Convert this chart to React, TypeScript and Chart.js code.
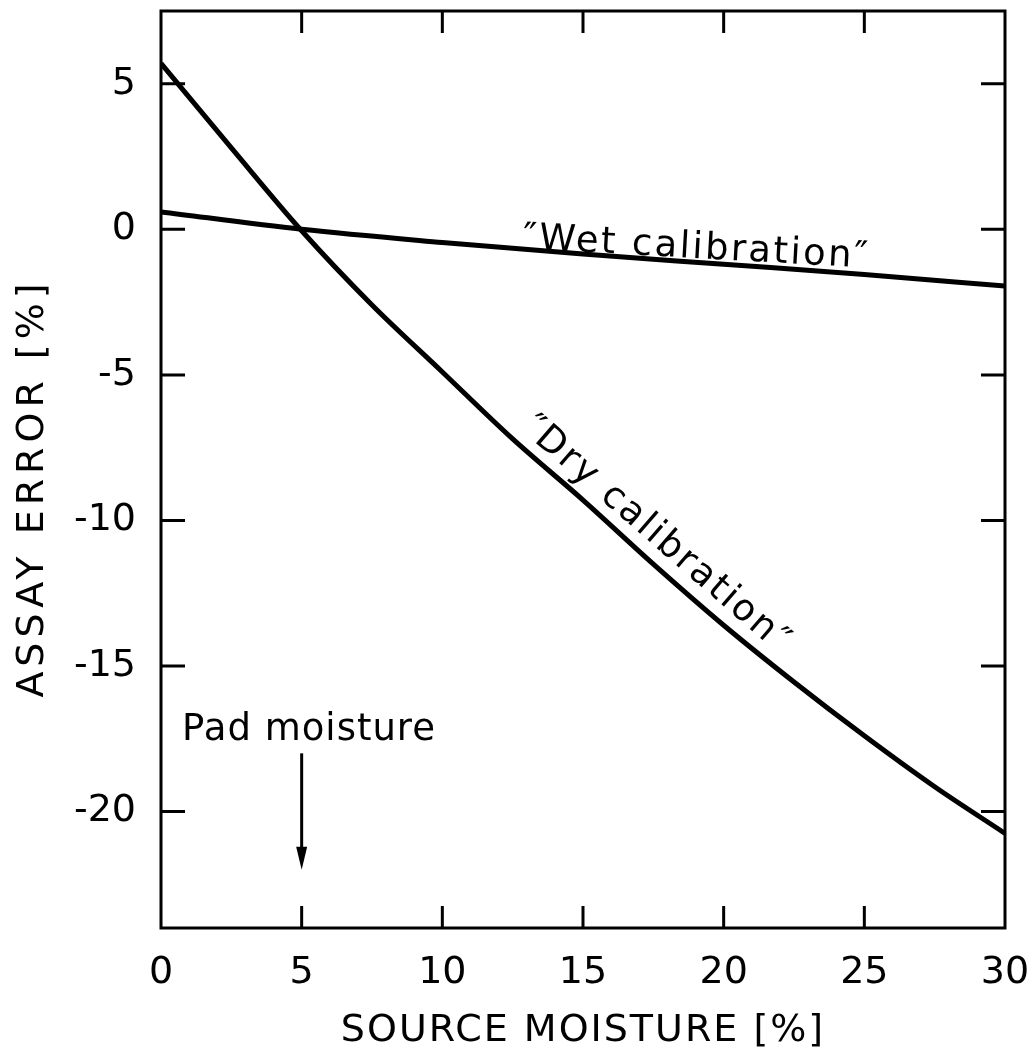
import React, { useEffect, useRef } from "react";
import { Chart, registerables } from "chart.js";

Chart.register(...registerables);

// ---- data ----
const dryMoisture = [0, 2.5, 5, 7.5, 10, 12.5, 15, 17.5, 20, 22.5, 25, 27.5, 30];
const dryError = [5.7, 2.8, -0.05, -2.6, -4.9, -7.2, -9.3, -11.5, -13.6, -15.55, -17.4, -19.15, -20.75];
const wetMoisture = [0, 5, 10, 15, 20, 25, 30];
const wetError = [0.6, 0.0, -0.45, -0.85, -1.2, -1.55, -1.95];
const xTicks = [0, 5, 10, 15, 20, 25, 30];
const yTicks = [5, 0, -5, -10, -15, -20];
const arrowX = [5, 5];
const arrowY = [-18, -22];

const xTitle = "SOURCE MOISTURE [%]";
const yTitle = "ASSAY ERROR [%]";
const wetLabel = "\u2033Wet calibration\u2033";
const dryLabel = "\u2033Dry calibration\u2033";
const padLabel = "Pad moisture";

const FONT = '"DejaVu Sans", sans-serif';

function drawText(
  ctx: CanvasRenderingContext2D,
  text: string,
  x: number,
  y: number,
  angleDeg: number,
  size: number,
  ls: number,
  align: CanvasTextAlign = "left"
) {
  ctx.save();
  ctx.translate(x, y);
  ctx.rotate((angleDeg * Math.PI) / 180);
  ctx.font = `${size}px ${FONT}`;
  (ctx as any).letterSpacing = `${ls}px`;
  ctx.textAlign = align;
  ctx.textBaseline = "alphabetic";
  ctx.fillStyle = "#000";
  ctx.fillText(text, 0, 0);
  ctx.restore();
}

const decorPlugin = {
  id: "decor",
  afterDraw(chart: any) {
    const { ctx, chartArea: a, scales } = chart;
    const xs = scales.x;
    const ys = scales.y;
    ctx.save();
    ctx.strokeStyle = "#000";
    ctx.lineWidth = 3;
    ctx.lineCap = "butt";
    ctx.strokeRect(a.left, a.top, a.right - a.left, a.bottom - a.top);

    // inward ticks on all four sides
    const tlx = 22;
    const tly = 24;
    ctx.beginPath();
    xTicks.forEach((v) => {
      if (v === xs.min || v === xs.max) return;
      const px = xs.getPixelForValue(v);
      ctx.moveTo(px, a.bottom);
      ctx.lineTo(px, a.bottom - tlx);
      ctx.moveTo(px, a.top);
      ctx.lineTo(px, a.top + tlx);
    });
    yTicks.forEach((v) => {
      const py = ys.getPixelForValue(v);
      ctx.moveTo(a.left, py);
      ctx.lineTo(a.left + tly, py);
      ctx.moveTo(a.right, py);
      ctx.lineTo(a.right - tly, py);
    });
    ctx.stroke();

    // arrow (pad moisture)
    const ax = xs.getPixelForValue(arrowX[0]);
    const ay0 = ys.getPixelForValue(arrowY[0]);
    const ay1 = ys.getPixelForValue(arrowY[1]);
    ctx.lineWidth = 3;
    ctx.beginPath();
    ctx.moveTo(ax, ay0);
    ctx.lineTo(ax, ay1 - 15);
    ctx.stroke();
    ctx.beginPath();
    ctx.moveTo(ax, ay1);
    ctx.lineTo(ax - 5.5, ay1 - 23);
    ctx.lineTo(ax + 5.5, ay1 - 23);
    ctx.closePath();
    ctx.fillStyle = "#000";
    ctx.fill();
    ctx.restore();

    // texts
    drawText(ctx, padLabel, xs.getPixelForValue(0.75), ys.getPixelForValue(-17.55), 0, 37, 1);
    drawText(ctx, wetLabel, xs.getPixelForValue(12.84), ys.getPixelForValue(-0.65), 3.2, 37, 2.4);
    drawText(ctx, dryLabel, xs.getPixelForValue(12.8), ys.getPixelForValue(-6.9), 41, 37, 2.4);
    drawText(ctx, xTitle, (a.left + a.right) / 2, a.bottom + 113, 0, 38, 2, "center");
    drawText(ctx, yTitle, 43, 488, -90, 38, 5, "center");
  },
};

export default function App() {
  const ref = useRef<HTMLCanvasElement | null>(null);
  useEffect(() => {
    if (!ref.current) return;
    const chart = new Chart(ref.current, {
      type: "line",
      data: {
        datasets: [
          {
            label: "Dry calibration",
            data: dryMoisture.map((x, i) => ({ x, y: dryError[i] })),
            borderColor: "#000",
            borderWidth: 5,
            pointRadius: 0,
            cubicInterpolationMode: "monotone",
            fill: false,
          },
          {
            label: "Wet calibration",
            data: wetMoisture.map((x, i) => ({ x, y: wetError[i] })),
            borderColor: "#000",
            borderWidth: 5,
            pointRadius: 0,
            cubicInterpolationMode: "monotone",
            fill: false,
          },
        ],
      },
      options: {
        responsive: false,
        animation: false,
        events: [],
        layout: { padding: { top: 11, right: 27, left: 0, bottom: 0 } },
        plugins: {
          legend: { display: false },
          tooltip: { enabled: false },
          title: { display: false },
        },
        scales: {
          x: {
            type: "linear",
            min: 0,
            max: 30,
            grid: { display: false, drawTicks: false },
            border: { display: false },
            afterBuildTicks: (s: any) => {
              s.ticks = xTicks.map((v) => ({ value: v }));
            },
            afterFit: (s: any) => {
              s.height = 121;
              s.paddingLeft = 0;
              s.paddingRight = 0;
              s.paddingTop = 0;
              s.paddingBottom = 0;
            },
            ticks: {
              color: "#000",
              font: { family: "DejaVu Sans", size: 38 },
              padding: 22,
              maxRotation: 0,
              autoSkip: false,
            },
          },
          y: {
            type: "linear",
            min: -24,
            max: 7.5,
            grid: { display: false, drawTicks: false },
            border: { display: false },
            afterBuildTicks: (s: any) => {
              s.ticks = yTicks.map((v) => ({ value: v }));
            },
            afterFit: (s: any) => {
              s.width = 161;
              s.paddingLeft = 0;
              s.paddingRight = 0;
              s.paddingTop = 0;
              s.paddingBottom = 0;
            },
            ticks: {
              color: "#000",
              font: { family: "DejaVu Sans", size: 38 },
              padding: 25,
              autoSkip: false,
            },
          },
        },
      },
      plugins: [decorPlugin],
    } as any);
    return () => chart.destroy();
  }, []);
  return (
    <div style={{ position: "absolute", left: 0, top: 0, width: 1032, height: 1049, background: "#fff" }}>
      <canvas ref={ref} width={1032} height={1049} style={{ display: "block" }} />
    </div>
  );
}
